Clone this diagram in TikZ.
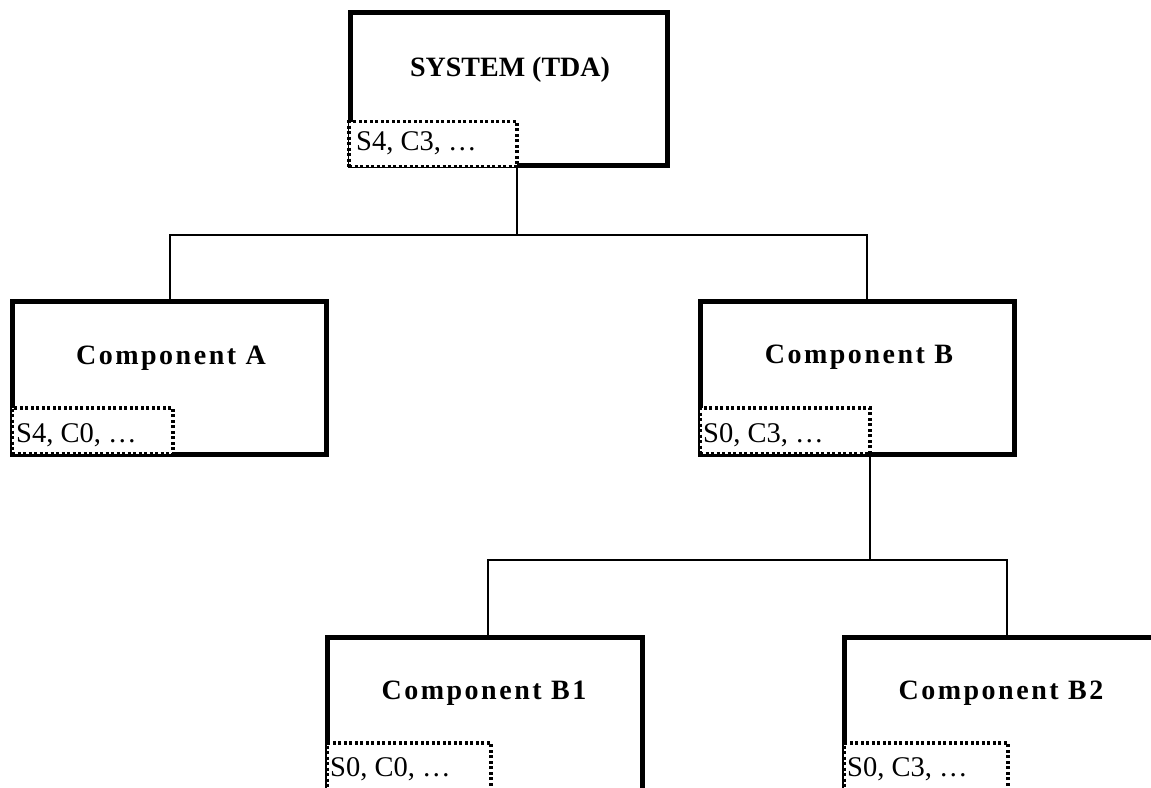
\documentclass[tikz,border=0pt]{standalone}
\usepackage{fontspec}
\setmainfont{Liberation Serif}
\begin{document}
\begin{tikzpicture}[x=1pt,y=-1pt,
  unit/.style={draw=black, line width=5pt, fill=white, inner sep=0pt, outer sep=0pt},
  tag/.style={draw=black, line width=3.5pt, dash pattern=on 3pt off 2.5pt,
    fill=white, inner sep=0pt, outer sep=0pt, anchor=south west},
  title/.style={inner sep=0pt, font=\fontsize{28}{32}\selectfont\bfseries},
  comp/.style={inner sep=0pt,
    font=\fontsize{28}{32}\selectfont\bfseries\addfontfeature{LetterSpace=9}},
  tagtext/.style={inner sep=0pt, anchor=base west, font=\fontsize{28.5}{32}\selectfont},
  link/.style={draw=black, line width=2.5pt}]
\useasboundingbox (0,0) rectangle (1151,787);

% component boxes
\node[unit, minimum width=317pt, minimum height=153pt] (sys) at (508.5,89) {};
\node[unit, minimum width=314pt, minimum height=153pt] (A) at (169,377.5) {};
\node[unit, minimum width=314pt, minimum height=153pt] (B) at (857,377.5) {};
\node[unit, minimum width=315pt, minimum height=163pt] (B1) at (484.5,718.5) {};
\node[unit, minimum width=315pt, minimum height=163pt] (B2) at (1001.5,718.5) {};

% dotted state tags
\node[tag, minimum width=168pt, minimum height=45pt] (sysd) at (349,166.5) {};
\node[tag, minimum width=161pt, minimum height=46pt] (Ad) at (12,454) {};
\node[tag, minimum width=170pt, minimum height=46pt] (Bd) at (700,454) {};
\node[tag, minimum width=164pt, minimum height=60pt] (B1d) at (327,803) {};
\node[tag, minimum width=164pt, minimum height=60pt] (B2d) at (844,803) {};

% titles
\node[title] (sysT) at (510,70) {SYSTEM (TDA)};
\node[comp] (AT) at (171,358) {Component A};
\node[comp] (BT) at (859,357) {Component B};
\node[comp] (B1T) at (484,693) {Component B1};
\node[comp] (B2T) at (1001,693) {Component B2};

% tag texts
\node[tagtext] (sysS) at (356,150) {S4, C3, …};
\node[tagtext] (AS) at (16,442) {S4, C0, …};
\node[tagtext] (BS) at (703,442) {S0, C3, …};
\node[tagtext] (B1S) at (330,776) {S0, C0, …};
\node[tagtext] (B2S) at (847,776) {S0, C3, …};

% tree connectors
\coordinate (j1) at (517,235);
\coordinate (j2) at (870,560);
\draw[link] (sysd.south east) -- (sysd.south east |- j1);
\draw[link] ([xshift=1pt]A.north) |- (j1) -| ([xshift=10pt]B.north);
\draw[link] (Bd.south east) -- (Bd.south east |- j2);
\draw[link] ([xshift=3.5pt]B1.north) |- (j2) -| ([xshift=5.5pt]B2.north);
\end{tikzpicture}
\end{document}
